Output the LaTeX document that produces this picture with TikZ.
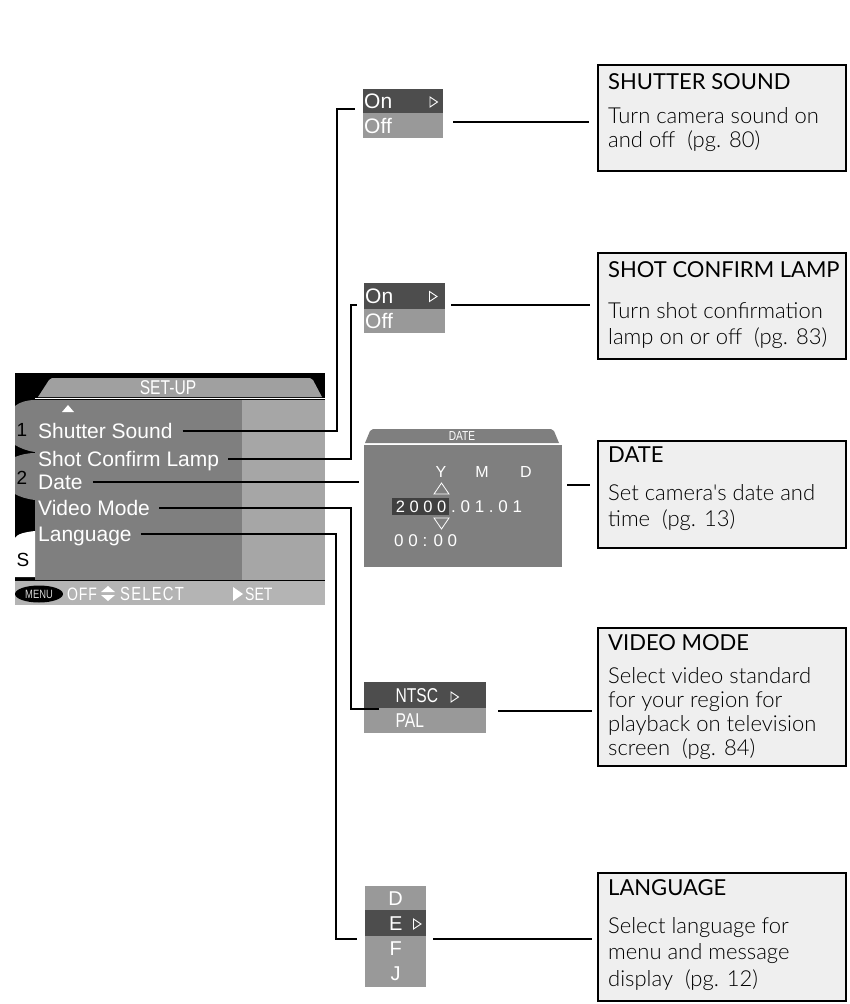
\documentclass[tikz,border=0pt]{standalone}
\usepackage{fontspec}
\setmainfont{Liberation Sans}
\newfontfamily\cond[FakeStretch=0.78]{Liberation Sans}
\newfontfamily\boxfont{Lato}
\newfontfamily\boxlight{Lato Light}
\usetikzlibrary{shapes.geometric}
\definecolor{panel}{HTML}{7F7F7F}
\definecolor{rpanel}{HTML}{A6A6A6}
\definecolor{tabgray}{HTML}{A0A0A0}
\definecolor{barcol}{HTML}{B4B4B4}
\definecolor{darkrow}{HTML}{4D4D4D}
\definecolor{lightrow}{HTML}{999999}
\definecolor{boxgray}{HTML}{EFEFEF}
\definecolor{hilite}{HTML}{404040}
\tikzset{
  conn/.style={line width=1.2pt, black},
  item/.style={anchor=west, inner sep=0pt, text=white, font=\fontsize{21}{25}\selectfont, text height=15pt, text depth=0pt},
  tabnum/.style={inner sep=0pt, text=black, font=\fontsize{19}{22}\selectfont},
  infobox/.style={draw=black, line width=2pt, fill=boxgray, anchor=north west, inner sep=0pt, minimum width=248pt},
  boxtitle/.style={anchor=base west, inner sep=0pt, font=\boxfont\fontsize{22}{25}\selectfont},
  boxbody/.style={anchor=base west, inner sep=0pt, align=left, font=\boxlight\fontsize{22}{24}\selectfont},
  optrow/.style={anchor=north west, inner sep=0pt, text=white, font=\fontsize{21}{22}\selectfont},
  scr/.style={inner sep=0pt, text=white, font=\fontsize{16}{19}\selectfont},
  barlbl/.style={anchor=west, inner sep=0pt, text=white, font=\cond\fontsize{19}{22}\selectfont},
  rtri/.pic={\draw[white, line width=0.9pt, line join=miter] (-3.5,-5) -- (4,0) -- (-3.5,5) -- cycle;}
}
\begin{document}
\begin{tikzpicture}[x=1pt,y=-1pt]
\useasboundingbox (0,0) rectangle (850,1004);
\fill[white] (0,0) rectangle (850,1004);

% ---------------- SET-UP screen ----------------
\fill[black] (15,373) rectangle (325,581);
\fill[tabgray] (38,397) -- (49,380) .. controls (50,378.5) .. (52,378) -- (310,378) .. controls (312,378.5) .. (313,380) -- (322,397) -- cycle;
\node[inner sep=0pt, text=white, font=\cond\fontsize{20}{22}\selectfont] (setup) at (168,388) {SET-UP};
\draw[white, line width=1.2pt] (35,398.5) -- (325,398.5);
\fill[panel] (35,400) rectangle (242,580);
\fill[rpanel] (242,400) rectangle (325,580);
% side tabs
\fill[panel] (15,406) .. controls (20,402) and (27,400) .. (35,400) -- (35,452) .. controls (27,451) and (20,448) .. (15,445) -- cycle;
\fill[panel] (15,457) .. controls (20,455) and (27,453) .. (35,453) -- (35,500) .. controls (27,499) and (20,497) .. (15,494) -- cycle;
\fill[white] (15,577) -- (15,538) .. controls (17,534) and (25,532) .. (35,531) -- (35,577) -- cycle;
\node[tabnum] (t1) at (22,430) {1};
\node[tabnum] (t2) at (22,478) {2};
\node[tabnum] (t3) at (23,560) {S};
\fill[white] (62,412) -- (74,412) -- (68,405) -- cycle;
% menu items
\node[item] (ss)  at (38,431) {Shutter Sound};
\node[item] (scl) at (38,459) {Shot Confirm Lamp};
\node[item] (dt)  at (38,482) {Date};
\node[item] (vm)  at (38,508) {Video Mode};
\node[item] (lg)  at (38,534) {Language};
% bottom bar
\fill[barcol] (15,581) rectangle (325,605);
\node[ellipse, fill=black, inner sep=0pt, minimum width=48pt, minimum height=17pt, text=white!85!black, font=\cond\fontsize{12}{14}\selectfont] (menu) at (39,594) {MENU};
\node[barlbl, font=\cond\fontsize{18}{22}\selectfont] (off) at (67,594) {O\kern0.8pt F\kern0.8pt F};
\fill[white] (101,592) -- (115,592) -- (108,586) -- cycle;
\fill[white] (101,595) -- (115,595) -- (108,601) -- cycle;
\node[barlbl] (sel) at (120,594) {S\kern1.2pt E\kern1.2pt L\kern1.2pt E\kern1.2pt C\kern1.2pt T};
\fill[white] (233,587) -- (243,594) -- (233,601) -- cycle;
\node[barlbl, font=\cond\fontsize{18}{22}\selectfont] (set) at (245,594) {SET};

% ---------------- option lists ----------------
% Shutter sound
\node[optrow, fill=darkrow, minimum width=80pt, minimum height=24pt, text width=78pt, align=left, inner xsep=1pt] (oo1a) at (363,89) {On};
\node[optrow, fill=lightrow, minimum width=80pt, minimum height=25pt, text width=78pt, align=left, inner xsep=1pt] (oo1b) at (363,113) {Off};
\pic at (433.5,102) {rtri};
% Shot confirm
\node[optrow, fill=darkrow, minimum width=81pt, minimum height=26pt, text width=79pt, align=left, inner xsep=1pt] (oo2a) at (364,283) {On};
\node[optrow, fill=lightrow, minimum width=81pt, minimum height=24pt, text width=79pt, align=left, inner xsep=1pt] (oo2b) at (364,309) {Off};
\pic at (433,296.5) {rtri};
% Date screen
\fill[panel] (365,443) -- (370,431) .. controls (371,429.5) .. (373,429) -- (551,429) .. controls (553,429.5) .. (554,431) -- (559,443) -- cycle;
\node[inner sep=0pt, text=white, font=\cond\fontsize{13}{15}\selectfont] (dttl) at (462,436.5) {DATE};
\draw[white, line width=1pt] (364,444) -- (562,444);
\node[fill=panel, anchor=north west, minimum width=198pt, minimum height=122pt, inner sep=0pt] (dscr) at (364,445) {};
\node[scr] (yy) at (441,472) {Y};
\node[scr] (mm) at (482,472) {M};
\node[scr] (dd) at (526,472) {D};
\draw[white, line width=0.8pt] (434,494) -- (449,494) -- (441.5,483) -- cycle;
\node[fill=hilite, anchor=north west, minimum width=57pt, minimum height=17pt, inner sep=0pt] (hl) at (392,498) {};
\node[scr, font=\fontsize{16.5}{19}\selectfont] (yr) at (421,506.5) {2 0 0 0};
\node[scr, anchor=west, font=\fontsize{17}{19}\selectfont] (md) at (451,506.5) {.\ 0 1 .\ 0 1};
\draw[white, line width=0.8pt] (434,518) -- (449,518) -- (441.5,529) -- cycle;
\node[scr, anchor=west, font=\fontsize{17}{19}\selectfont] (tm) at (394,541) {0 0 : 0 0};
% Video mode
\node[optrow, fill=darkrow, minimum width=101pt, minimum height=26pt, text width=80pt, align=left, inner xsep=0pt, xshift=21pt, font=\cond\fontsize{20}{22}\selectfont] (nt) at (364,682) {NTSC};
\fill[darkrow] (364,682) rectangle (385,708);
\node[optrow, fill=lightrow, minimum width=101pt, minimum height=25pt, text width=80pt, align=left, inner xsep=0pt, xshift=21pt, font=\cond\fontsize{20}{22}\selectfont] (pal) at (364,708) {PAL};
\fill[lightrow] (364,708) rectangle (385,733);
\pic at (454.5,697) {rtri};
% Language
\node[optrow, fill=lightrow, minimum width=61pt, minimum height=24pt, font=\fontsize{20}{22}\selectfont] (ld) at (365,886) {D};
\node[optrow, fill=darkrow, minimum width=61pt, minimum height=26pt, font=\fontsize{20}{22}\selectfont] (le) at (365,910) {E};
\node[optrow, fill=lightrow, minimum width=61pt, minimum height=25pt, font=\fontsize{20}{22}\selectfont] (lf) at (365,936) {F};
\node[optrow, fill=lightrow, minimum width=61pt, minimum height=26pt, font=\fontsize{20}{22}\selectfont] (lj) at (365,961) {J};
\pic at (417,924) {rtri};

% ---------------- info boxes ----------------
\node[infobox, minimum height=106pt] (b1) at (597,64) {};
\node[boxtitle] (b1t) at (608,89.5) {SHUTTER SOUND};
\node[boxbody] (b1b) at (608,147) {Turn camera sound on\\and off\ \ (pg. 80)};

\node[infobox, minimum height=106pt] (b2) at (597,252) {};
\node[boxtitle] (b2t) at (608,277.5) {SHOT CONFIRM LAMP};
\node[boxbody, font=\boxlight\fontsize{22}{26}\selectfont] (b2b) at (608,344) {Turn shot confirmation\\lamp on or off\ \ (pg. 83)};

\node[infobox, minimum height=107pt] (b3) at (597,440) {};
\node[boxtitle] (b3t) at (608,462.5) {DATE};
\node[boxbody, font=\boxlight\fontsize{22}{26}\selectfont] (b3b) at (608,526) {Set camera's date and\\time\ \ (pg. 13)};

\node[infobox, minimum height=138pt] (b4) at (597,627) {};
\node[boxtitle] (b4t) at (608,650.5) {VIDEO MODE};
\node[boxbody] (b4b) at (608,755) {Select video standard\\for your region for\\playback on television\\screen\ \ (pg. 84)};

\node[infobox, minimum height=128pt] (b5) at (597,872) {};
\node[boxtitle] (b5t) at (608,895.5) {LANGUAGE};
\node[boxbody, font=\boxlight\fontsize{22}{26.5}\selectfont] (b5b) at (608,986) {Select language for\\menu and message\\display\ \ (pg. 12)};

% ---------------- connectors ----------------
\coordinate (k1) at (337,109);
\coordinate (k2) at (351,305);
\coordinate (k4) at (351,709);
\coordinate (k5) at (336,939);
\draw[conn] ([xshift=10pt]ss.east) -| (k1) -- ([xshift=-8pt]k1 -| oo1a.west);
\draw[conn] ([xshift=9pt]scl.east) -| (k2) -- ([xshift=-7pt]k2 -| oo2a.west);
\draw[conn] ([xshift=10pt]dt.east) -- ([xshift=-5pt]dt.east -| dscr.west);
\draw[conn] ([xshift=9pt]vm.east) -| (k4) -- ([xshift=-6pt]k4 -| pal.west);
\draw[conn] ([xshift=9pt]lg.east) -| (k5) -- ([xshift=-8pt]k5 -| le.west);

\coordinate (r1) at (0,122);
\coordinate (r2) at (0,305);
\coordinate (r3) at (0,485);
\coordinate (r4) at (0,711);
\coordinate (r5) at (0,939);
\draw[conn] ([xshift=10pt]oo1b.east |- r1) -- ([xshift=-8pt]b1.west |- r1);
\draw[conn] ([xshift=6pt]oo2a.east |- r2) -- ([xshift=-7pt]b2.west |- r2);
\draw[conn] ([xshift=5pt]dscr.east |- r3) -- ([xshift=-7pt]b3.west |- r3);
\draw[conn] ([xshift=12pt]pal.east |- r4) -- ([xshift=-5pt]b4.west |- r4);
\draw[conn] ([xshift=7pt]le.east |- r5) -- ([xshift=-5pt]b5.west |- r5);
\end{tikzpicture}
\end{document}
